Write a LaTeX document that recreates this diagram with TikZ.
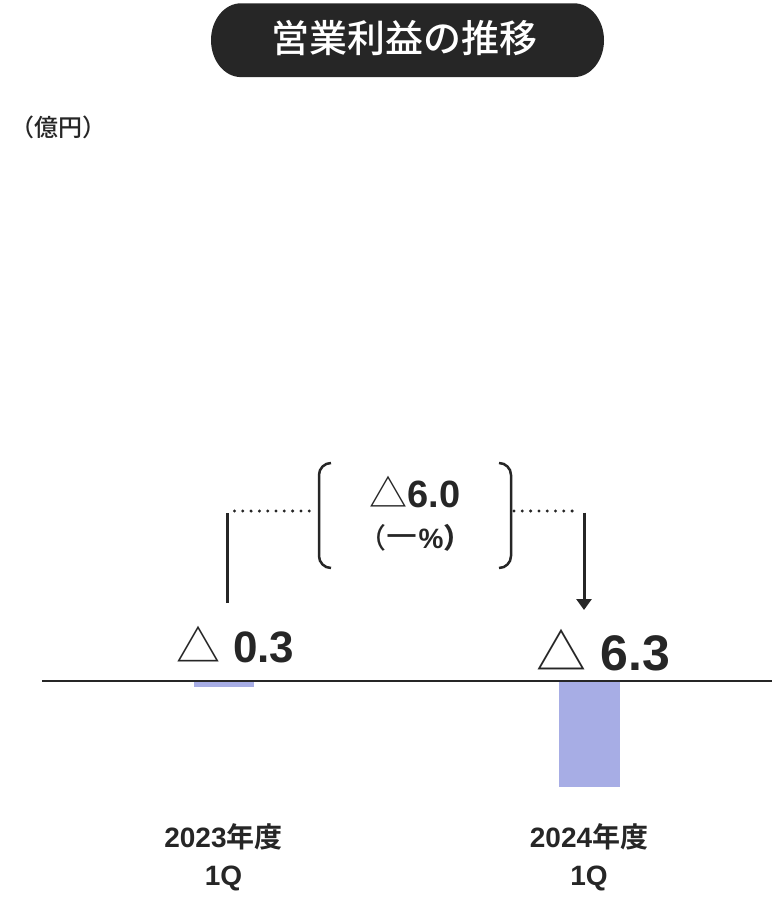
\documentclass[tikz,border=0pt]{standalone}
\usepackage{fontspec}
\setmainfont{Liberation Sans}
\newfontfamily\cjk{Noto Sans CJK JP}[BoldFont={Noto Sans CJK JP Bold}]
\newfontfamily\cjkmed{Noto Sans CJK JP Medium}
\usetikzlibrary{arrows.meta}
\definecolor{ink}{RGB}{38,38,38}
\definecolor{barc}{RGB}{167,173,229}
\newcommand\fsz[1]{\fontsize{#1}{#1}\selectfont}
\begin{document}
\begin{tikzpicture}[x=1pt,y=-1pt,
  every node/.style={inner sep=0pt, text=ink},
  txt/.style={anchor=base},
  bar/.style={fill=barc, draw=none},
  solidline/.style={draw=ink, line width=3pt},
  dotline/.style={draw=ink, line width=3.3pt, line cap=round, dash pattern=on 0pt off 8.3pt},
  bracketline/.style={draw=ink, line width=2.5pt, rounded corners=12pt},
  arrowline/.style={draw=ink, line width=3pt, -{Triangle[width=15pt,length=11pt]}}]
\useasboundingbox (0,0) rectangle (782,901);
% title pill
\fill[ink] (241,3.3) -- (574,3.3) arc[start angle=-90,end angle=90,x radius=30,y radius=36.9]
  -- (241,77.1) arc[start angle=90,end angle=270,x radius=30,y radius=36.9] -- cycle;
\node[text=white] (title) at (404.5,38.4) {\cjkmed\fsz{38}営業利益の推移};
% unit
\node (unit) at (58,127) {\cjkmed\fsz{24}（億円）};
% bars
\path[bar] (194,681) rectangle (254,687);
\path[bar] (559,681) rectangle (620,787);
\coordinate (axl) at (42,681);
\coordinate (axr) at (772,681);
\draw[ink, line width=1.5pt] (axl) -- (axr);
% values
\node[txt] (v1) at (235.5,662.5) {\fsz{44}\bfseries{\cjk\mdseries △} 0.3};
\node[txt] (v2) at (603.5,670) {\fsz{50}\bfseries{\cjk\mdseries △} 6.3};
\node[txt] (dA) at (415,507) {\fsz{38}\bfseries{\cjk\mdseries △}6.0};
\node[txt] (dB) at (415,548) {\fsz{28}{\cjkmed （}\kern1pt\bfseries\raisebox{0.17em}{—}\kern3pt\%{\cjkmed ）}};
% categories
\node[txt] (y1) at (223.5,847) {\fsz{28}\bfseries 2023{\cjk 年度}};
\node[txt] (q1) at (223.5,885) {\fsz{28}\bfseries 1Q};
\node[txt] (y2) at (589,847) {\fsz{28}\bfseries 2024{\cjk 年度}};
\node[txt] (q2) at (589,885) {\fsz{28}\bfseries 1Q};
% brackets
\coordinate (bl1) at (331,463); \coordinate (bl2) at (319,463);
\coordinate (bl3) at (319,568); \coordinate (bl4) at (331,568);
\coordinate (br1) at (499,463); \coordinate (br2) at (511,463);
\coordinate (br3) at (511,568); \coordinate (br4) at (499,568);
\draw[bracketline] (bl1) -- (bl2) -- (bl3) -- (bl4);
\draw[bracketline] (br1) -- (br2) -- (br3) -- (br4);
% connectors
\coordinate (c1b) at (227.5,603);
\coordinate (c1t) at (227.5,511);
\coordinate (dl) at (316,511);
\coordinate (dr) at (514,511);
\coordinate (c2t) at (584,511);
\coordinate (c2b) at (584,610);
\draw[solidline] (c1b) -- ([yshift=-1.5pt]c1t);
\draw[dotline] ([xshift=7pt]c1t) -- (dl);
\draw[dotline] (dr) -- ([xshift=-4pt]c2t);
\draw[arrowline] ([yshift=-1.5pt]c2t) -- (c2b);
\end{tikzpicture}
\end{document}
